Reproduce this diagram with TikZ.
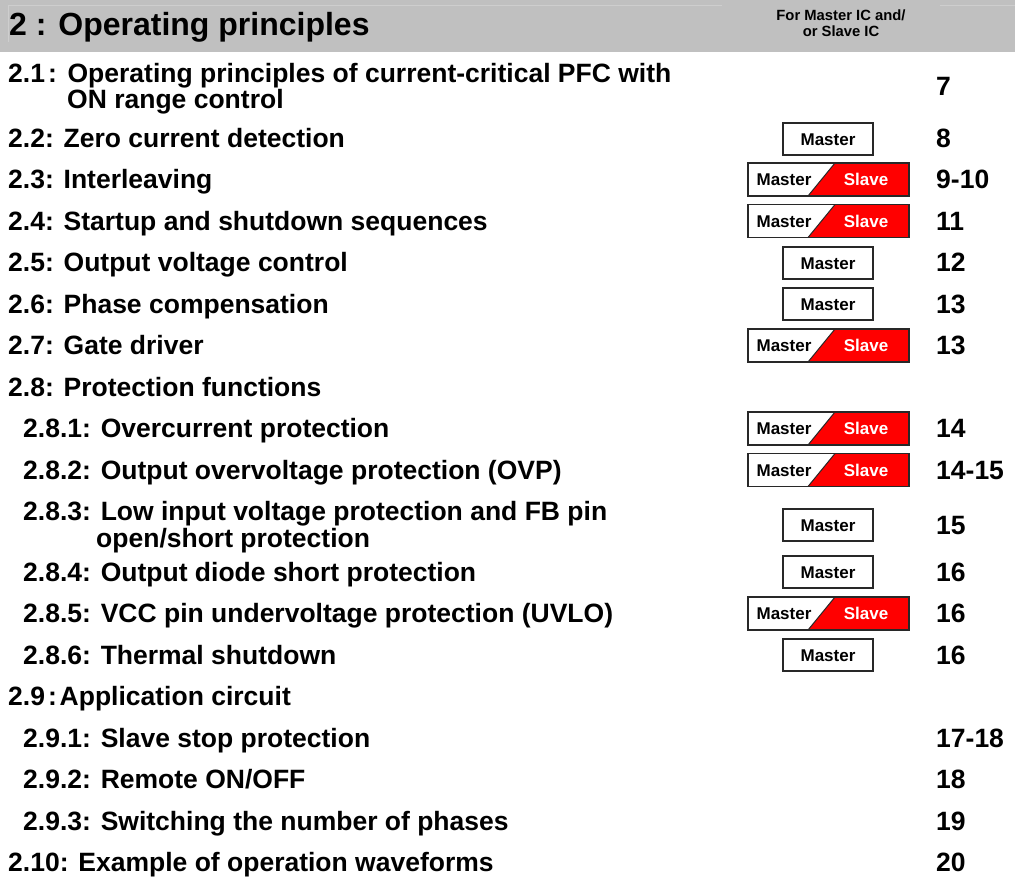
\documentclass[tikz,border=0pt]{standalone}
\usepackage{fontspec}
\setmainfont{Liberation Sans}
\definecolor{hdrgray}{RGB}{192,192,192}
\definecolor{hdrline}{RGB}{206,206,206}
\definecolor{boxline}{RGB}{40,40,40}
\definecolor{slavered}{RGB}{255,0,0}
% Master-only badge: name, center y
\newcommand\masterbadge[2]{%
  \node[mframe] (#1) at (828,#2) {};
  \node[btext, anchor=base] (#1-m) at (828,#2+6) {Master};
}
% Master/Slave badge: name, center y
\newcommand\msbadge[2]{%
  \fill[slavered] (808,#2+16.5) -- (835,#2-16.5) -- (909,#2-16.5) -- (909,#2+16.5) -- cycle;
  \draw[boxline, line width=1pt] (808,#2+16.5) -- (835,#2-16.5);
  \node[msframe] (#1) at (828.5,#2) {};
  \node[btext, anchor=base] (#1-m) at (784,#2+6) {Master};
  \node[btext, anchor=base, text=white] (#1-s) at (866,#2+6) {Slave};
}
\begin{document}
\begin{tikzpicture}[x=1pt,y=-1pt,
  row/.style={anchor=base west, inner sep=0pt, font=\fontsize{26.5}{30}\selectfont\bfseries},
  pg/.style={row},
  btext/.style={inner sep=0pt, font=\fontsize{17}{20}\selectfont\bfseries},
  mframe/.style={draw=boxline, line width=1.3pt, minimum width=90pt, minimum height=32pt, inner sep=0pt},
  msframe/.style={draw=boxline, line width=1.3pt, minimum width=161pt, minimum height=33pt, inner sep=0pt},
  hdrtext/.style={anchor=base west, inner sep=0pt, font=\fontsize{32}{34}\selectfont\bfseries},
  hdrsmall/.style={anchor=base, inner sep=0pt, font=\fontsize{14.8}{17}\selectfont\bfseries}]
\useasboundingbox (0,0) rectangle (1015,881);
\fill[white] (0,0) rectangle (1015,881);
% header band
\fill[hdrgray] (0,0) rectangle (1015,52);
\draw[hdrline, line width=0.8pt] (8,42) -- (8,5) -- (722,5);
\draw[hdrline, line width=0.8pt] (940,5) -- (1015,5);
\node[hdrtext] (title) at (9,35) {2 : Operating principles};
\node[hdrsmall] (col1) at (841,20) {For Master IC and/};
\node[hdrsmall] (col2) at (841,36) {or Slave IC};

% rows
\node[row] (r21a) at (8,82) {2.1\hspace{0.12em}:\hspace{0.4em}Operating principles of current-critical PFC with};
\node[row] (r21b) at (67,108) {ON range control};
\node[pg] (p21) at (936,95) {7};

\node[row] (r22) at (8,147) {2.2: Zero current detection};
\masterbadge{b22}{139}
\node[pg] (p22) at (936,147) {8};

\node[row] (r23) at (8,188.5) {2.3: Interleaving};
\msbadge{b23}{179.5}
\node[pg] (p23) at (936,188.5) {9-10};

\node[row] (r24) at (8,230) {2.4: Startup and shutdown sequences};
\msbadge{b24}{221}
\node[pg] (p24) at (936,230) {11};

\node[row] (r25) at (8,271.5) {2.5: Output voltage control};
\masterbadge{b25}{263}
\node[pg] (p25) at (936,271.5) {12};

\node[row] (r26) at (8,313) {2.6: Phase compensation};
\masterbadge{b26}{304}
\node[pg] (p26) at (936,313) {13};

\node[row] (r27) at (8,354.5) {2.7: Gate driver};
\msbadge{b27}{345.5}
\node[pg] (p27) at (936,354.5) {13};

\node[row] (r28) at (8,396) {2.8: Protection functions};

\node[row] (r281) at (23,437.5) {2.8.1: Overcurrent protection};
\msbadge{b281}{428.5}
\node[pg] (p281) at (936,437.5) {14};

\node[row] (r282) at (23,479) {2.8.2: Output overvoltage protection (OVP)};
\msbadge{b282}{470}
\node[pg] (p282) at (936,479) {14-15};

\node[row] (r283a) at (23,520.5) {2.8.3: Low input voltage protection and FB pin};
\node[row] (r283b) at (96,547.5) {open/short protection};
\masterbadge{b283}{525}
\node[pg] (p283) at (936,534) {15};

\node[row] (r284) at (23,581) {2.8.4: Output diode short protection};
\masterbadge{b284}{572}
\node[pg] (p284) at (936,581) {16};

\node[row] (r285) at (23,622.5) {2.8.5: VCC pin undervoltage protection (UVLO)};
\msbadge{b285}{613.5}
\node[pg] (p285) at (936,622.5) {16};

\node[row] (r286) at (23,664) {2.8.6: Thermal shutdown};
\masterbadge{b286}{655}
\node[pg] (p286) at (936,664) {16};

\node[row] (r29) at (8,705.5) {2.9\hspace{0.12em}:\hspace{0.1em}Application circuit};

\node[row] (r291) at (23,747) {2.9.1: Slave stop protection};
\node[pg] (p291) at (936,747) {17-18};

\node[row] (r292) at (23,788.5) {2.9.2: Remote ON/OFF};
\node[pg] (p292) at (936,788.5) {18};

\node[row] (r293) at (23,830) {2.9.3: Switching the number of phases};
\node[pg] (p293) at (936,830) {19};

\node[row] (r210) at (8,871.5) {2.10: Example of operation waveforms};
\node[pg] (p210) at (936,871.5) {20};
\end{tikzpicture}
\end{document}
